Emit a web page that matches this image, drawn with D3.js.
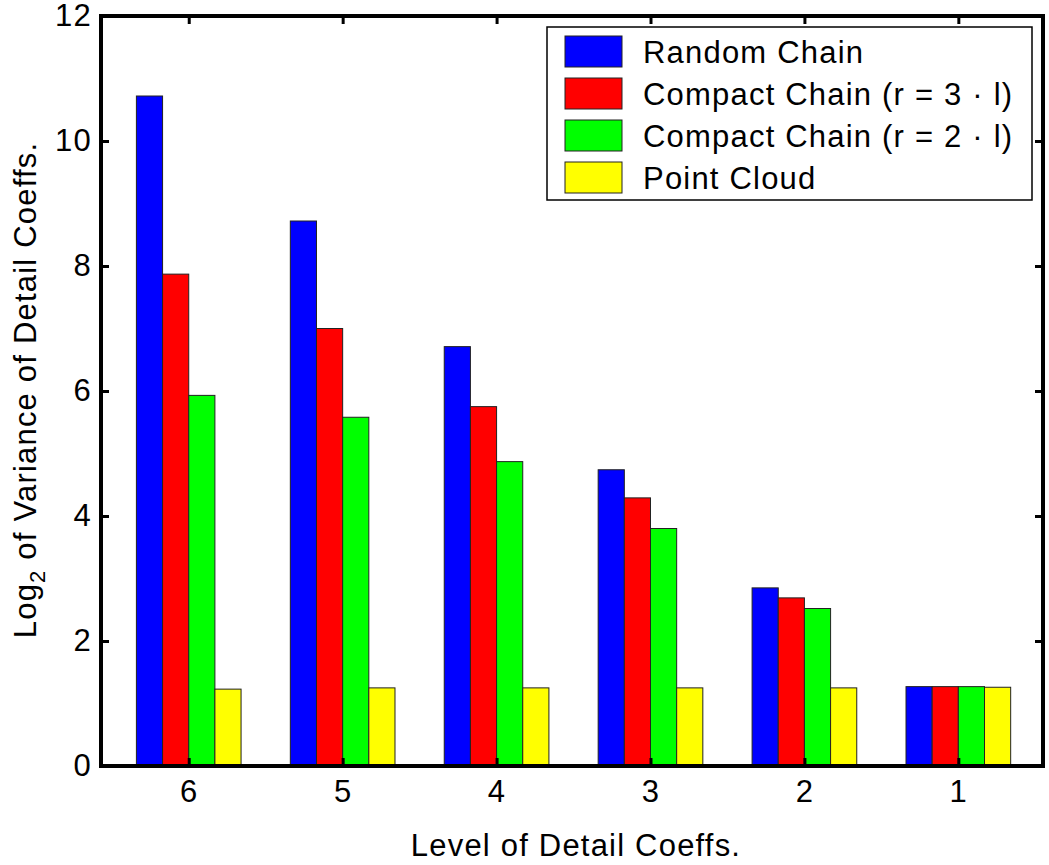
<!DOCTYPE html>
<html>
<head>
<meta charset="utf-8">
<script src="https://cdn.jsdelivr.net/npm/d3@7"></script>
<style>
  body { margin: 0; background: #fff; }
  svg text { font-family: "Liberation Sans", Arial, sans-serif; fill: #000; letter-spacing: 1.2px; }
</style>
</head>
<body>
<svg id="chart" width="1049" height="865"></svg>
<script>
// Detail-coefficient levels, left to right
const levels = ["6", "5", "4", "3", "2", "1"];
const seriesNames = ["Random Chain", "Compact Chain (r = 3 · l)", "Compact Chain (r = 2 · l)", "Point Cloud"];
const seriesColors = ["#0000ff", "#ff0000", "#00ff00", "#ffff00"];
// log2 variance per level, one array per series
const randomChain   = [10.72, 8.72, 6.71, 4.74, 2.85, 1.27];
const compactChain3 = [7.87, 7.00, 5.75, 4.29, 2.69, 1.27];
const compactChain2 = [5.93, 5.58, 4.87, 3.80, 2.52, 1.27];
const pointCloud    = [1.23, 1.25, 1.25, 1.25, 1.25, 1.26];
const yTicks = [0, 2, 4, 6, 8, 10, 12];

const series = [randomChain, compactChain3, compactChain2, pointCloud];

const svg = d3.select("#chart");
const plotL = 101, plotR = 1043, plotT = 16, plotB = 766;
const fontSize = 31;

// Positions 1..6 along a continuous axis, like a MATLAB grouped bar plot
const x = d3.scaleLinear().domain([0.43, 6.55]).range([plotL, plotR]);
const y = d3.scaleLinear().domain([0, 12]).range([plotB, plotT]);

const groupWidth = 0.68;
const barW = groupWidth / series.length;

// Bars
series.forEach((vals, s) => {
  svg.append("g").selectAll("rect")
    .data(vals)
    .join("rect")
    .attr("x", (d, i) => x(i + 1 - groupWidth / 2 + s * barW))
    .attr("width", x(barW) - x(0))
    .attr("y", d => y(d))
    .attr("height", d => y(0) - y(d))
    .attr("fill", seriesColors[s])
    .attr("stroke", "#222")
    .attr("stroke-width", 1);
});

const tickLen = 8;
const xPos = levels.map((d, i) => i + 1);

// Axes drawn inward, box on all four sides
const axisLeft = d3.axisLeft(y).tickValues(yTicks).tickSize(-tickLen).tickPadding(9).tickFormat(d3.format("d"));
const axisRight = d3.axisRight(y).tickValues(yTicks).tickSize(-tickLen).tickFormat("");
const axisBottom = d3.axisBottom(x).tickValues(xPos).tickSize(-tickLen).tickPadding(14).tickFormat((d, i) => levels[i]);
const axisTop = d3.axisTop(x).tickValues(xPos).tickSize(-tickLen).tickFormat("");

function style(g) {
  g.select(".domain").remove();
  g.selectAll(".tick line").attr("stroke", "#000").attr("stroke-width", 3);
  g.selectAll(".tick text").attr("font-size", fontSize).attr("font-family", "Liberation Sans, Arial, sans-serif");
}
svg.append("g").attr("transform", `translate(${plotL},0)`).call(axisLeft).call(style);
svg.append("g").attr("transform", `translate(${plotR},0)`).call(axisRight).call(style);
svg.append("g").attr("transform", `translate(0,${plotB})`).call(axisBottom).call(style);
svg.append("g").attr("transform", `translate(0,${plotT})`).call(axisTop).call(style);

// Frame
svg.append("rect")
  .attr("x", plotL).attr("y", plotT)
  .attr("width", plotR - plotL).attr("height", plotB - plotT)
  .attr("fill", "none").attr("stroke", "#000").attr("stroke-width", 4);

// Axis titles
svg.append("text")
  .attr("x", 576).attr("y", 856)
  .attr("text-anchor", "middle").attr("font-size", fontSize)
  .text("Level of Detail Coeffs.");

const yl = svg.append("text")
  .attr("transform", "translate(36,390) rotate(-90)")
  .attr("text-anchor", "middle").attr("font-size", fontSize);
yl.append("tspan").text("Log");
yl.append("tspan").attr("font-size", 22).attr("dy", 9).text("2");
yl.append("tspan").attr("dy", -9).text(" of Variance of Detail Coeffs.");

// Legend
const lg = svg.append("g").attr("transform", "translate(547,27)");
lg.append("rect").attr("width", 485).attr("height", 173)
  .attr("fill", "#fff").attr("stroke", "#000").attr("stroke-width", 1.5);
seriesNames.forEach((name, i) => {
  const row = lg.append("g").attr("transform", `translate(0,${9 + i * 42})`);
  row.append("rect").attr("x", 18).attr("y", 0).attr("width", 57).attr("height", 31)
    .attr("fill", seriesColors[i]).attr("stroke", "#222").attr("stroke-width", 1);
  row.append("text").attr("x", 96).attr("y", 27).attr("font-size", fontSize).text(name);
});
</script>
</body>
</html>
